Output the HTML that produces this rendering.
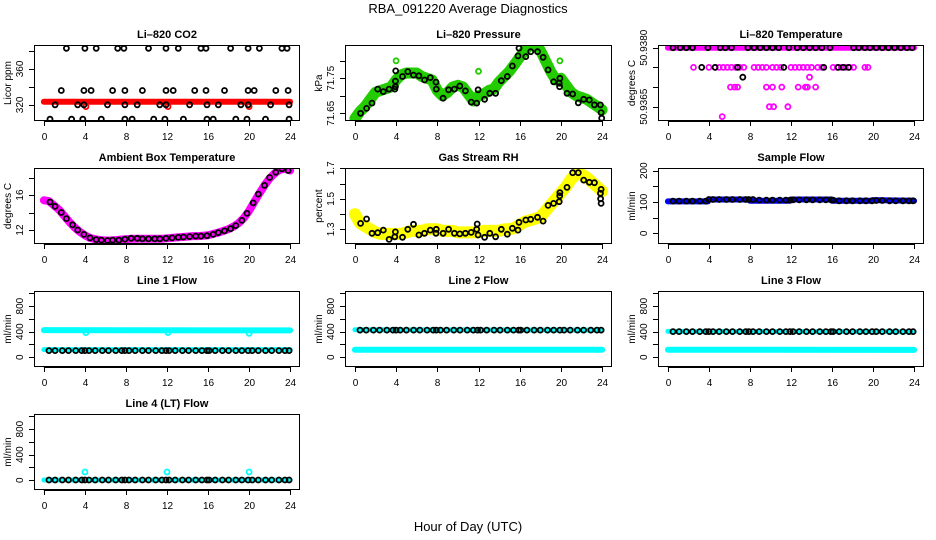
<!DOCTYPE html>
<html><head><meta charset="utf-8">
<style>
html,body{margin:0;padding:0;background:#fff;}
svg{display:block;font-family:"Liberation Sans",sans-serif;}
.tl{font-size:10px;fill:#000;}
.tt{font-size:11px;font-weight:bold;fill:#000;}
</style></head>
<body>
<svg id="chart" width="936" height="540" viewBox="0 0 936 540">
<text x="468" y="13" text-anchor="middle" font-size="13">RBA_091220  Average Diagnostics</text>
<text x="468" y="531" text-anchor="middle" font-size="13">Hour of Day (UTC)</text>
</svg>
<script>
// ---------- data ----------
const xTicks=[0,4,8,12,16,20,24];
const BH=[0.5,1.1,1.8,2.4,3.1,3.7,4.0,4.4,5.0,5.7,6.3,7.0,7.6,7.9,8.3,8.9,9.6,10.2,10.9,11.5,11.9,12.2,12.8,13.5,14.1,14.8,15.4,15.9,16.1,16.7,17.4,18.0,18.7,19.3,19.9,20.3,20.9,21.6,22.2,22.9,23.5,23.9];
const HH=[0,0.5,1,1.5,2,2.5,3,3.5,4,4.5,5,5.5,6,6.5,7,7.5,8,8.5,9,9.5,10,10.5,11,11.5,12,12.5,13,13.5,14,14.5,15,15.5,16,16.5,17,17.5,18,18.5,19,19.5,20,20.5,21,21.5,22,22.5,23,23.5,24];

// CO2
const co2X=[2.2,4.0,5.1,7.2,7.8,10.2,11.9,13.1,15.3,15.8,18.2,19.9,21.0,23.2,23.7,
 1.7,3.9,4.6,6.7,7.9,9.6,11.9,12.6,14.7,15.8,17.6,19.9,20.5,22.6,23.8,
 1.1,3.3,3.9,6.2,7.9,9.1,11.3,11.9,14.2,15.9,17.0,19.2,19.9,22.1,23.9,
 0.6,2.7,3.8,5.6,7.9,8.6,10.7,11.8,13.6,15.9,16.5,18.7,19.8,21.6,23.9];
const co2Y=[383,383,383,383,383,383,383,383,383,383,383,383,383,383,383,
 336,336,336,336,336,336,336,336,336,336,336,336,336,336,336,
 320,320,320,320,320,320,320,320,320,320,320,320,320,320,320,
 304,304,304,304,304,304,304,304,304,304,304,304,304,304,304];
const co2BandX=[0,24], co2BandY=[323.5,323.5];
const co2OutX=[4.1,12.1,20.0], co2OutY=[318,318,318];

// Pressure
const prX=[0.55,1.14,1.66,2.21,2.76,3.32,3.87,3.93,3.93,3.96,4.62,5.14,5.69,6.21,6.76,7.32,7.87,7.9,8.56,9.1,9.66,10.18,10.73,11.29,11.83,11.96,12.59,13.1,13.66,14.21,14.8,15.29,15.83,15.93,16.59,17.07,17.73,18.27,18.76,19.29,19.83,19.87,19.9,20.59,21.14,21.69,22.21,22.76,23.25,23.83,23.9,23.96];
const prY=[71.650,71.664,71.679,71.719,71.712,71.719,71.719,71.726,71.742,71.771,71.755,71.769,71.759,71.757,71.745,71.752,71.739,71.719,71.693,71.717,71.719,71.728,71.714,71.682,71.679,71.717,71.690,71.707,71.707,71.743,71.755,71.785,71.814,71.836,71.812,71.826,71.826,71.810,71.774,71.740,71.736,71.726,71.750,71.707,71.705,71.680,71.690,71.688,71.674,71.674,71.652,71.636];
const prBand=[71.635,71.655,71.67,71.69,71.71,71.715,71.72,71.725,71.745,71.76,71.765,71.765,71.765,71.755,71.75,71.745,71.715,71.70,71.71,71.725,71.73,71.725,71.705,71.685,71.70,71.705,71.715,71.72,71.74,71.755,71.77,71.79,71.81,71.83,71.845,71.845,71.83,71.80,71.77,71.745,71.75,71.73,71.71,71.70,71.695,71.69,71.68,71.67,71.66];
const prOutX=[4.0,12.0,19.9], prOutY=[71.80,71.77,71.80];

// Li-820 temperature
const ltBlackX=[0.5,1.2,1.8,2.4,3.9,5.1,5.6,6.2,7.8,8.4,9.0,9.6,10.2,10.8,11.8,12.6,13.2,13.8,14.4,15.0,15.8,18.1,18.6,19.2,19.7,20.3,20.9,21.5,22.1,22.7,23.3,23.8,
 3.3,4.6,6.8,11.3,15.2,16.6,17.1,17.6,7.3];
const ltBlackY=[50.9380,50.9380,50.9380,50.9380,50.9380,50.9380,50.9380,50.9380,50.9380,50.9380,50.9380,50.9380,50.9380,50.9380,50.9380,50.9380,50.9380,50.9380,50.9380,50.9380,50.9380,50.9380,50.9380,50.9380,50.9380,50.9380,50.9380,50.9380,50.9380,50.9380,50.9380,50.9380,
 50.9375,50.9375,50.9375,50.9375,50.9375,50.9375,50.9375,50.9375,50.93725];
const ltMagX=[2.5,4.0,4.6,5.0,5.4,5.8,6.2,6.6,7.0,7.4,8.4,8.8,9.2,9.6,10.2,10.6,11.0,12.0,12.4,12.8,13.2,13.6,14.0,14.6,15.0,16.1,16.5,16.9,17.3,17.7,18.1,19.2,19.5,
 13.8,6.1,6.5,6.8,9.6,10.2,11.1,12.7,13.4,13.6,14.4,9.9,10.3,11.7,5.3];
const ltMagY=[50.9375,50.9375,50.9375,50.9375,50.9375,50.9375,50.9375,50.9375,50.9375,50.9375,50.9375,50.9375,50.9375,50.9375,50.9375,50.9375,50.9375,50.9375,50.9375,50.9375,50.9375,50.9375,50.9375,50.9375,50.9375,50.9375,50.9375,50.9375,50.9375,50.9375,50.9375,50.9375,50.9375,
 50.93725,50.9370,50.9370,50.9370,50.9370,50.9370,50.9370,50.9370,50.9370,50.9370,50.9370,50.9365,50.9365,50.9365,50.93625];
const ltBandX=[0,24], ltBandY=[50.9380,50.9380];

// Ambient box temperature
const abX=[0.6,1.1,1.7,2.2,2.8,3.3,3.9,4.5,5.1,5.6,6.2,6.7,7.3,7.9,8.5,9.1,9.6,10.2,10.8,11.3,11.9,12.5,13.1,13.6,14.2,14.8,15.3,15.9,16.5,17.0,17.6,18.2,18.7,19.3,19.8,20.4,20.9,21.5,22.0,22.6,23.2,23.8];
const abY=[15.2,14.7,14.0,13.3,12.6,12.0,11.5,11.1,10.9,10.85,10.8,10.85,10.85,10.95,11.05,11.05,11.0,11.0,11.0,11.0,11.05,11.1,11.15,11.2,11.25,11.3,11.3,11.35,11.5,11.7,11.9,12.15,12.5,13.1,13.9,15.1,16.1,17.1,18.0,18.6,19.0,18.8];
const abBand=[15.4,15.3,14.8,14.3,13.6,12.9,12.3,11.8,11.4,11.1,10.95,10.85,10.8,10.8,10.85,10.9,10.95,11.0,11.0,11.0,11.0,11.0,11.0,11.0,11.05,11.1,11.15,11.2,11.25,11.3,11.3,11.35,11.4,11.55,11.7,11.9,12.1,12.4,12.8,13.4,14.2,15.2,16.2,17.1,17.9,18.5,18.9,19.0,18.8];

// Gas stream RH
const rhX=[0.55,1.14,1.66,2.21,2.76,3.32,3.87,3.93,4.62,5.14,5.69,6.21,6.76,7.32,7.87,7.9,8.56,9.1,9.66,10.18,10.73,11.29,11.83,11.87,11.96,12.59,13.1,13.66,14.21,14.8,15.29,15.83,15.93,16.59,17.07,17.73,18.27,18.76,19.29,19.83,19.88,19.9,20.59,21.14,21.69,22.21,22.76,23.25,23.83,23.9,23.85,23.9];
const rhY=[1.339,1.368,1.274,1.278,1.295,1.234,1.251,1.283,1.248,1.300,1.333,1.263,1.274,1.295,1.274,1.300,1.274,1.300,1.274,1.270,1.274,1.280,1.300,1.335,1.263,1.248,1.274,1.251,1.300,1.268,1.307,1.295,1.346,1.361,1.366,1.379,1.354,1.457,1.470,1.481,1.520,1.540,1.575,1.671,1.671,1.623,1.608,1.606,1.536,1.562,1.500,1.470];
const rhBand=[1.40,1.34,1.32,1.30,1.28,1.27,1.27,1.27,1.27,1.27,1.28,1.29,1.29,1.29,1.30,1.30,1.30,1.29,1.29,1.29,1.28,1.28,1.28,1.28,1.28,1.29,1.29,1.29,1.29,1.30,1.30,1.31,1.33,1.35,1.36,1.37,1.38,1.42,1.46,1.50,1.54,1.58,1.63,1.66,1.66,1.64,1.61,1.58,1.55];

// Sample flow
const sfBandX=[0,3.9,4.0,7.9,8.0,11.9,12.0,15.9,16.0,19.9,20.0,24];
const sfBandY=[102,102,108,108,104,104,108,108,104,104,106,104];
const sfLevel=[103,103,103,103,103,103,108,108,108,108,108,108,108,108,108,106,106,106,106,106,106,107,107,107,107,107,107,107,106,104,104,104,104,104,104,105,105,104,104,104,104,104];

// Line flows
const l1BandX=[0,24], l1HighY=[425,420], l1LowY=[120,120];
const l1Black=105, l1OutX=[4.1,12.1,20.0], l1OutY=[385,385,375];
const l2BandX=[0,24], l2HighY=[430,425], l2LowY=[118,118], l2Black=425;
const l3BandX=[0,24], l3HighY=[405,400], l3LowY=[118,115], l3Black=402;
const l4BandX=[0,24], l4BandY=[5,5], l4Black=5, l4OutX=[4.0,12.0,20.0], l4OutY=[130,130,130];

// ---------- drawing ----------
const NS='http://www.w3.org/2000/svg';
const svg=document.getElementById('chart');
function el(tag,attrs,parent){const e=document.createElementNS(NS,tag);for(const k in attrs)e.setAttribute(k,attrs[k]);(parent||svg).appendChild(e);return e;}
const COLS=[{l:34,r:300},{l:345,r:612},{l:658,r:924}];
const ROWS=[45,168,291,414];
const PH=76;
let clipN=0;
function panel(col,row,title,ylab,dom,yt,ylabels,draw,name){
  const c=COLS[col],top=ROWS[row],bot=top+PH;
  const g=el('g',{});
  
  
  const xs=h=>c.l+(h+0.96)/25.92*(c.r-c.l);
  const ys=v=>bot-(v-dom[0])/(dom[1]-dom[0])*PH;
  const t=el('text',{x:(c.l+c.r)/2,y:top-7,'text-anchor':'middle',class:'tt'},g);t.textContent=title;
  
  
  const id='cp'+(clipN++);
  const cp=el('clipPath',{id:id},g);el('rect',{x:c.l,y:top,width:c.r-c.l,height:PH},cp);
  const marks=el('g',{'clip-path':'url(#'+id+')'},g);
  
  
  draw(marks,xs,ys);
  const box=el('rect',{x:c.l+0.5,y:top+0.5,width:c.r-c.l-1,height:PH-1,fill:'none',stroke:'#000','stroke-width':1},g);
  
  
  const xa=el('g',{},g);
  
  
  el('line',{x1:xs(0),x2:xs(24),y1:bot+0.5,y2:bot+0.5,stroke:'#000'},xa);
  xTicks.forEach(v=>{const x=Math.round(xs(v))+0.5;el('line',{x1:x,x2:x,y1:bot,y2:bot+5,stroke:'#000'},xa);
    const tx=el('text',{x:x,y:bot+19,'text-anchor':'middle',class:'tl'},xa);tx.textContent=v;});
  const ya=el('g',{},g);
  
  
  el('line',{x1:c.l+0.5,x2:c.l+0.5,y1:ys(yt[0]),y2:ys(yt[yt.length-1]),stroke:'#000'},ya);
  yt.forEach(v=>{const y=Math.round(ys(v))+0.5;el('line',{x1:c.l-5,x2:c.l,y1:y,y2:y,stroke:'#000'},ya);});
  ylabels.forEach(v=>{const y=ys(parseFloat(v));const tx=el('text',{x:c.l-11,y:y,'text-anchor':'middle',class:'tl',transform:'rotate(-90 '+(c.l-11)+' '+y+')'},ya);tx.textContent=v;});
  const yl=el('text',{x:c.l-23,y:(top+bot)/2,'text-anchor':'middle',class:'tl',transform:'rotate(-90 '+(c.l-23)+' '+((top+bot)/2)+')'},g);
  yl.textContent=ylab;
  
  
}
function band(g,xs,ys,X,Y,color,w){
  const p=el('polyline',{points:X.map((h,i)=>xs(h).toFixed(1)+','+ys(Y[i]).toFixed(1)).join(' '),fill:'none',stroke:color,'stroke-width':w,'stroke-linejoin':'round','stroke-linecap':'round'},g);
  
  
}
function pts(g,xs,ys,X,Y,color,r){
  X.forEach((h,i)=>{const cc=el('circle',{cx:xs(h).toFixed(1),cy:ys(Y[i]).toFixed(1),r:r||2.5,fill:'none',stroke:color,'stroke-width':1.8},g);
    
    });
}
const flowTicks=[0,200,400,600,800,1000], flowLabels=['0','400','800'];

panel(0,0,'Li–820 CO2','Licor ppm',[302,386.7],[320,340,360,380],['320','360'],(g,xs,ys)=>{
  band(g,xs,ys,co2BandX,co2BandY,'#ff0000',6);
  pts(g,xs,ys,co2OutX,co2OutY,'#ff0000');
  pts(g,xs,ys,co2X,co2Y,'#000');
},'co2');
panel(1,0,'Li–820 Pressure','kPa',[71.628,71.845],[71.65,71.70,71.75,71.80],['71.65','71.75'],(g,xs,ys)=>{
  band(g,xs,ys,HH,prBand,'#22cc00',11);
  pts(g,xs,ys,prOutX,prOutY,'#22cc00');
  pts(g,xs,ys,prX,prY,'#000');
},'pressure');
panel(2,0,'Li–820 Temperature','degrees C',[50.936137,50.938069],[50.9365,50.9370,50.9375,50.9380],['50.9365','50.9380'],(g,xs,ys)=>{
  band(g,xs,ys,ltBandX,ltBandY,'#ff00ff',6);
  pts(g,xs,ys,ltMagX,ltMagY,'#ff00ff');
  pts(g,xs,ys,ltBlackX,ltBlackY,'#000');
},'li820-temperature');
panel(0,1,'Ambient Box Temperature','degrees C',[10.4,19.09],[12,14,16,18],['12','16'],(g,xs,ys)=>{
  band(g,xs,ys,HH,abBand,'#ff00ff',8);
  pts(g,xs,ys,abX,abY,'#000');
},'ambient-temperature');
panel(1,1,'Gas Stream RH','percent',[1.204,1.702],[1.3,1.4,1.5,1.6,1.7],['1.3','1.5','1.7'],(g,xs,ys)=>{
  band(g,xs,ys,HH,rhBand,'#ffff00',12);
  pts(g,xs,ys,rhX,rhY,'#000');
},'gas-rh');
panel(2,1,'Sample Flow','ml/min',[-34,208.6],[0,50,100,150,200],['0','100','200'],(g,xs,ys)=>{
  band(g,xs,ys,sfBandX,sfBandY,'#0000ff',6);
  pts(g,xs,ys,BH,sfLevel,'#000');
},'sample-flow');
panel(0,2,'Line 1 Flow','ml/min',[-152,1036],flowTicks,flowLabels,(g,xs,ys)=>{
  band(g,xs,ys,l1BandX,l1HighY,'#00ffff',6);
  band(g,xs,ys,l1BandX,l1LowY,'#00ffff',5);
  pts(g,xs,ys,l1OutX,l1OutY,'#00ffff');
  pts(g,xs,ys,BH,BH.map(()=>l1Black),'#000');
},'line1-flow');
panel(1,2,'Line 2 Flow','ml/min',[-152,1036],flowTicks,flowLabels,(g,xs,ys)=>{
  band(g,xs,ys,l2BandX,l2HighY,'#00ffff',5);
  band(g,xs,ys,l2BandX,l2LowY,'#00ffff',6);
  pts(g,xs,ys,BH,BH.map(()=>l2Black),'#000');
},'line2-flow');
panel(2,2,'Line 3 Flow','ml/min',[-152,1036],flowTicks,flowLabels,(g,xs,ys)=>{
  band(g,xs,ys,l3BandX,l3HighY,'#00ffff',5);
  band(g,xs,ys,l3BandX,l3LowY,'#00ffff',6);
  pts(g,xs,ys,BH,BH.map(()=>l3Black),'#000');
},'line3-flow');
panel(0,3,'Line 4 (LT) Flow','ml/min',[-152,1036],flowTicks,flowLabels,(g,xs,ys)=>{
  band(g,xs,ys,l4BandX,l4BandY,'#00ffff',5);
  pts(g,xs,ys,l4OutX,l4OutY,'#00ffff');
  pts(g,xs,ys,BH,BH.map(()=>l4Black),'#000');
},'line4-flow');
</script>
</body></html>
